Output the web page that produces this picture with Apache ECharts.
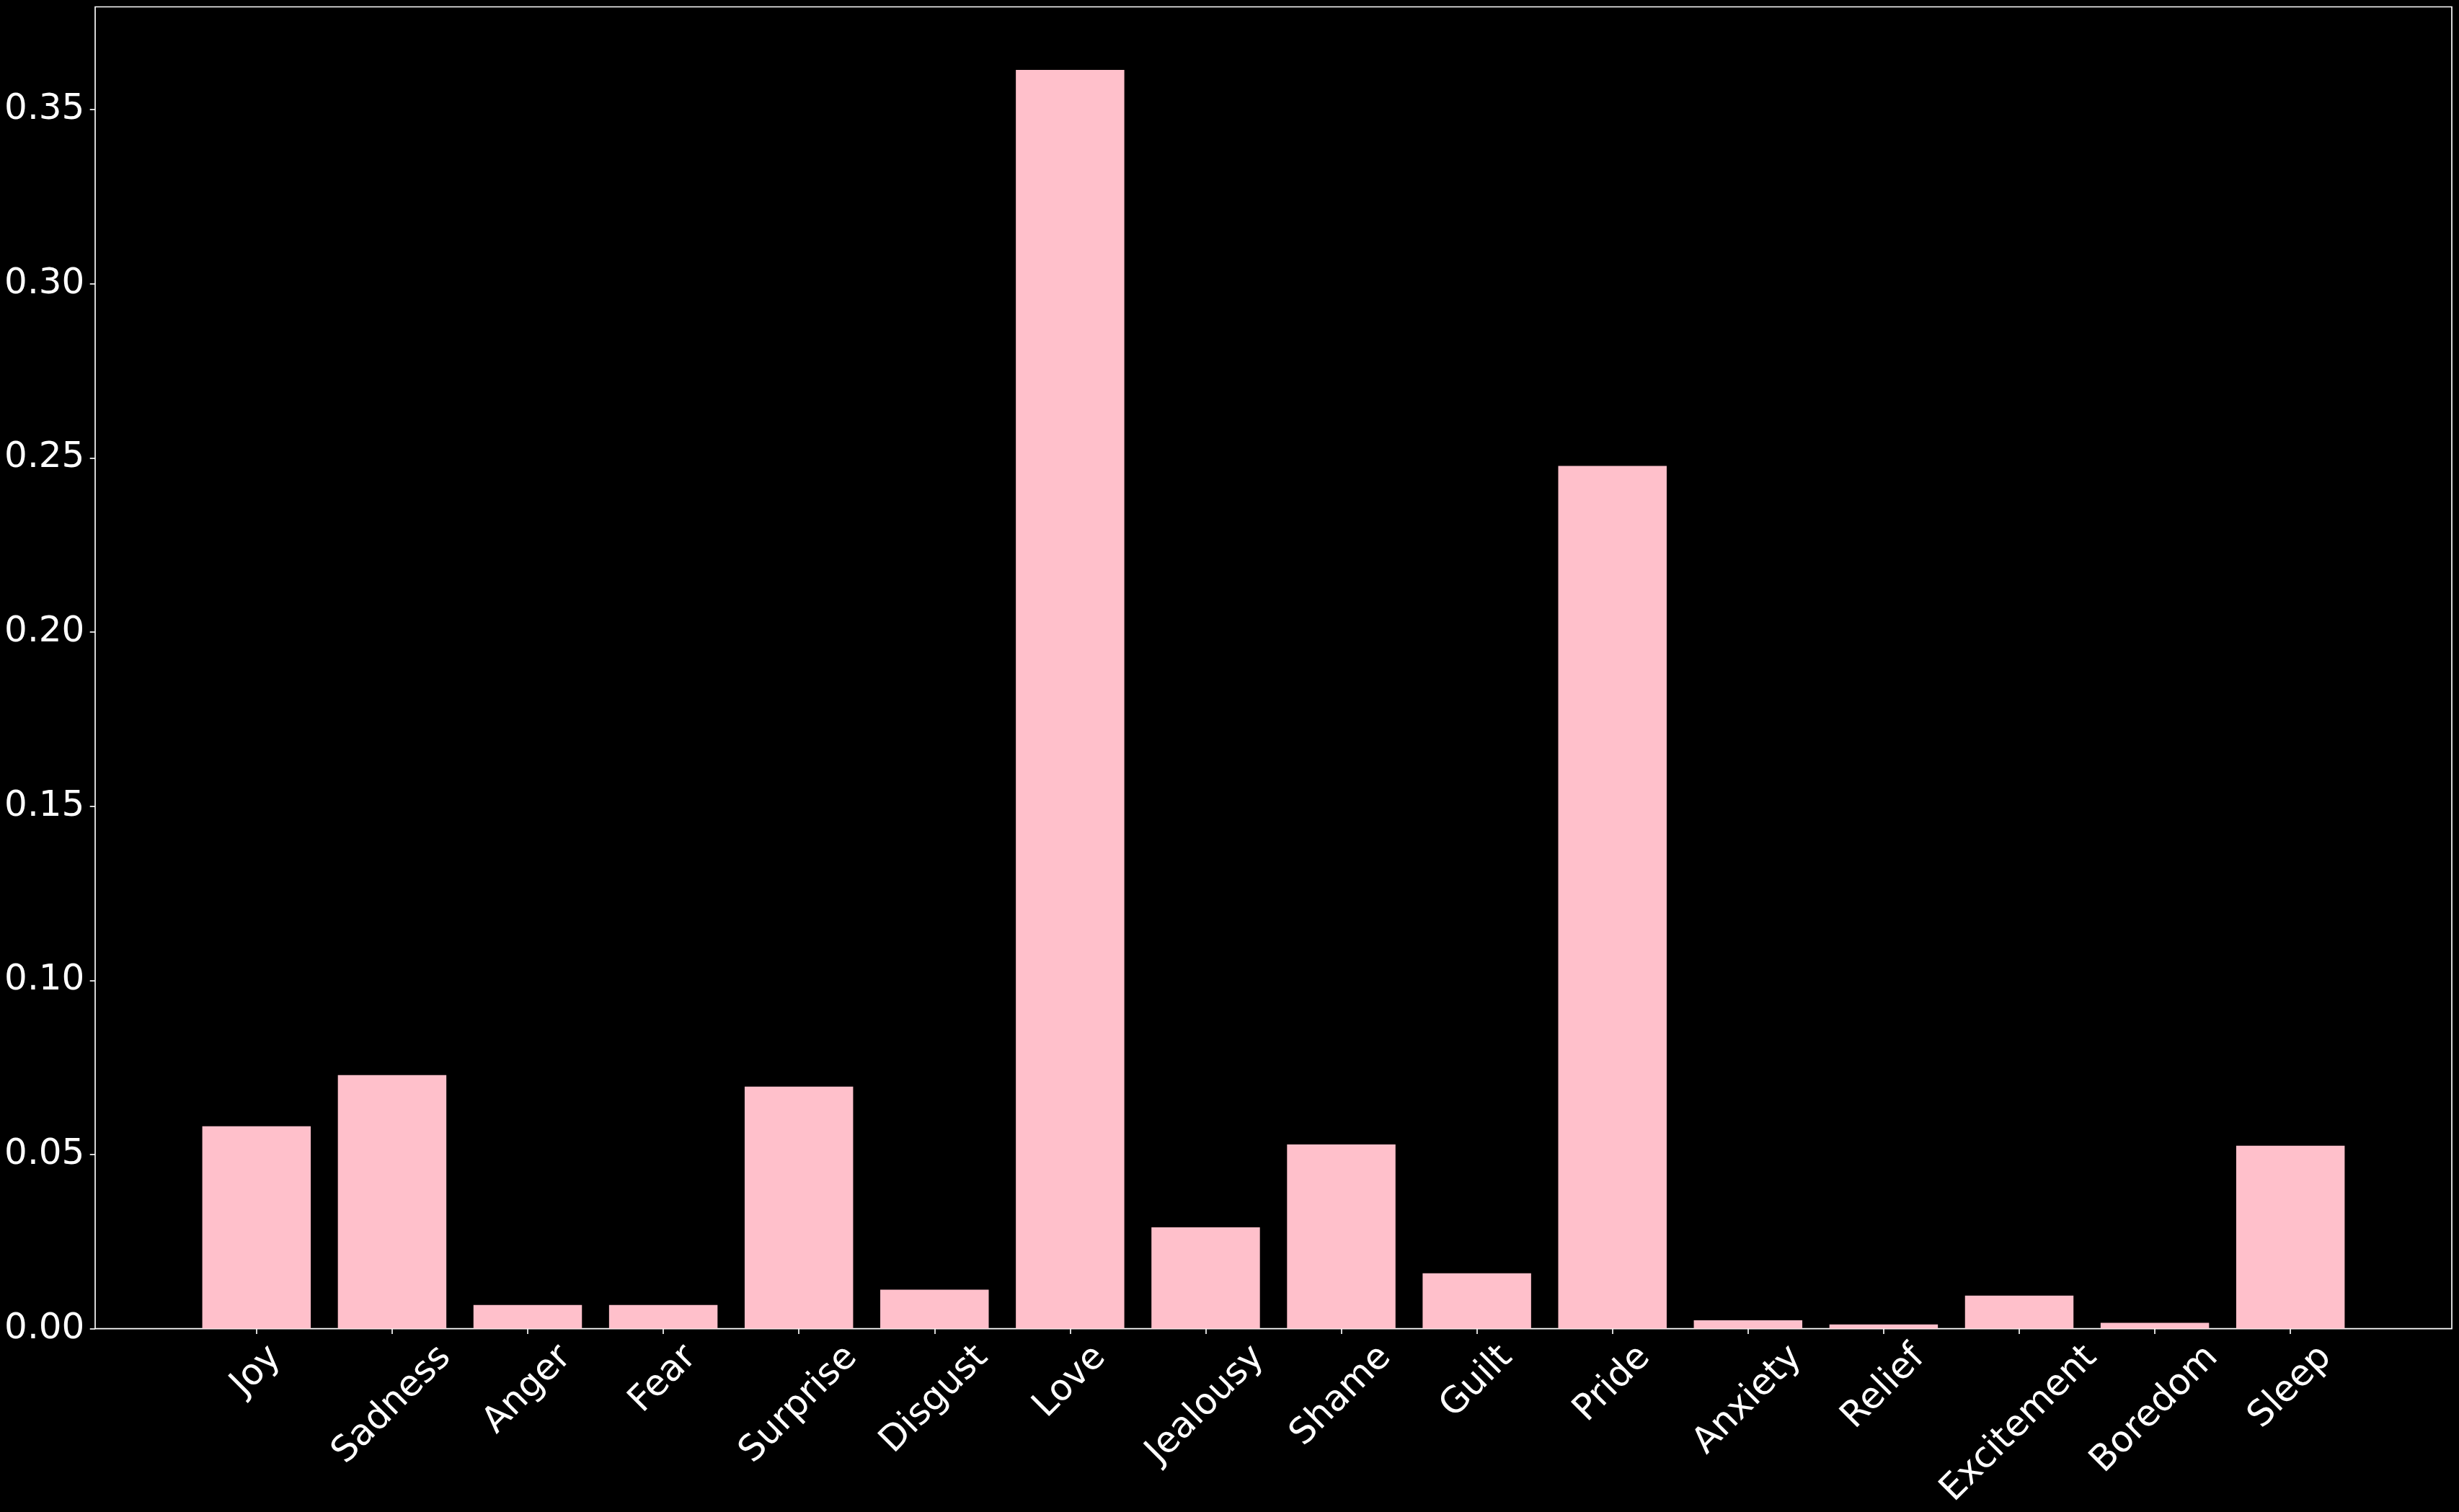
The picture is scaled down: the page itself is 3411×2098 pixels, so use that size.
<!DOCTYPE html>
<html>
<head>
<meta charset="utf-8">
<script src="https://cdn.jsdelivr.net/npm/echarts@6/dist/echarts.min.js"></script>
<style>
html,body{margin:0;padding:0;background:#000;}
#chart{width:3411px;height:2098px;}
</style>
</head>
<body>
<div id="chart"></div>
<script>
// ---- data ----
var categories = ['Joy','Sadness','Anger','Fear','Surprise','Disgust','Love','Jealousy','Shame','Guilt','Pride','Anxiety','Relief','Excitement','Boredom','Sleep'];
var values = [0.0581,0.0728,0.0068,0.0068,0.0695,0.0112,0.3614,0.0291,0.0529,0.0159,0.2477,0.0024,0.0012,0.0095,0.0017,0.0525];
var yTickStep = 0.05;
var yMax = 0.3795;

// ---- style / layout ----
var FONT = 'DejaVu Sans';
var FS = 50;
var LW = 1.67;
var TICK = 7.3;
var PAD = 7.3;
var W = 3411, H = 2098;
var frameLeft = 132, frameRight = 3401, frameTop = 9.5, frameBottom = 1843.6;
var n = categories.length;
var span = (n - 1 + 0.8) * 1.1;
var unit = (frameRight - frameLeft) / span;
var xPad = 0.4 + 0.05 * (n - 1 + 0.8);
var barLeft = frameLeft + (xPad - 0.5) * unit;
var barRight = frameRight - (xPad - 0.5) * unit;

// rotated (45deg) tick labels centred under their tick, top of rotated box at tick+pad
var ctx = document.createElement('canvas').getContext('2d');
ctx.font = FS + 'px "' + FONT + '"';
var h = FS;
var catItems = categories.map(function (c) {
  var w = ctx.measureText(c).width;
  var b = (TICK + PAD + 0.3536 * (w + h)) / 1.4142;
  var pt = Math.max(0, b - h / 2);
  var pr = 2 * b;
  return { value: c, textStyle: { padding: [pt, pr, 0, 0], align: 'center', verticalAlign: 'top',
    color: '#ffffff', fontFamily: FONT, fontSize: FS } };
});

var chart = echarts.init(document.getElementById('chart'), null, { renderer: 'canvas', width: W, height: H });
chart.setOption({
  backgroundColor: '#000000',
  animation: false,
  grid: [
    { left: frameLeft, right: W - frameRight, top: frameTop, bottom: H - frameBottom, show: true,
      borderColor: '#ffffff', borderWidth: LW, backgroundColor: 'transparent', containLabel: false, outerBoundsMode: 'none' },
    { left: barLeft, right: W - barRight, top: frameTop, bottom: H - frameBottom, containLabel: false, outerBoundsMode: 'none' }
  ],
  xAxis: [
    { type: 'value', gridIndex: 0, show: false, min: 0, max: 1 },
    { type: 'category', gridIndex: 1, data: catItems, boundaryGap: true,
      axisLine: { show: false },
      axisTick: { show: true, alignWithLabel: true, length: TICK, lineStyle: { color: '#ffffff', width: LW } },
      axisLabel: { show: true, interval: 0, rotate: 45, align: 'center', verticalAlign: 'top',
        margin: 0, color: '#ffffff', fontFamily: FONT, fontSize: FS, hideOverlap: false },
      splitLine: { show: false } }
  ],
  yAxis: [
    { type: 'value', gridIndex: 0, min: 0, max: yMax, interval: yTickStep,
      axisLine: { show: false },
      axisTick: { show: true, length: TICK, lineStyle: { color: '#ffffff', width: LW } },
      axisLabel: { color: '#ffffff', fontFamily: FONT, fontSize: FS, margin: TICK + PAD, showMaxLabel: false,
        formatter: function (v) { return v.toFixed(2); } },
      splitLine: { show: false } },
    { type: 'value', gridIndex: 1, min: 0, max: yMax, show: false, splitLine: { show: false } }
  ],
  series: [
    { type: 'bar', xAxisIndex: 1, yAxisIndex: 1, data: values, barCategoryGap: '20%',
      itemStyle: { color: '#ffc0cb' }, silent: true }
  ]
});
</script>
</body>
</html>
